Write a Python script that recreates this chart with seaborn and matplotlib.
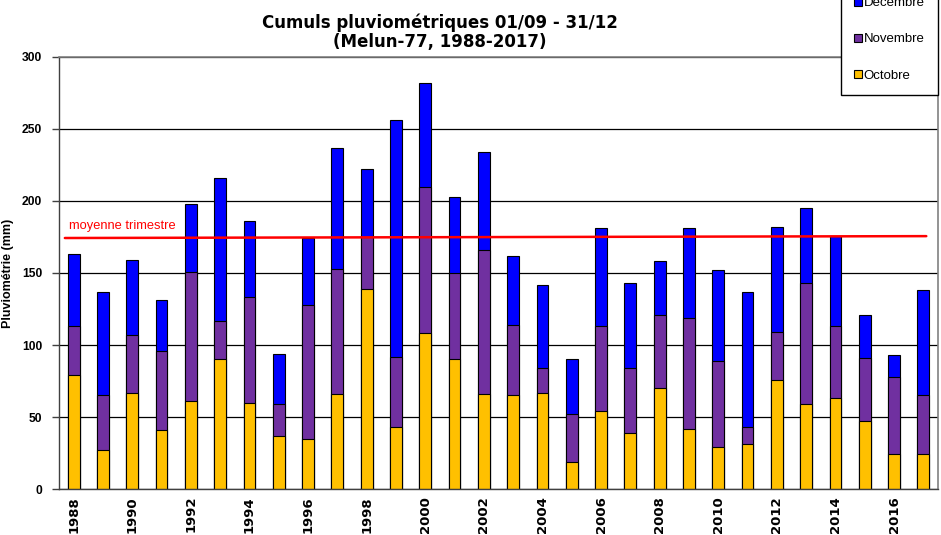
import matplotlib
matplotlib.use("Agg")
import matplotlib.pyplot as plt
import seaborn as sns
import pandas as pd
from matplotlib.patches import Patch
from matplotlib.ticker import FixedLocator

years = list(range(1988, 2018))
octobre = [79, 27, 67, 41, 61, 90, 60, 37, 35, 66, 139, 43, 108, 90, 66,
           65, 67, 19, 54, 39, 70, 42, 29, 31, 76, 59, 63, 47, 24, 24]
novembre_cum = [113, 65, 107, 96, 151, 117, 133, 59, 128, 153, 175, 92, 210, 150, 166,
                114, 84, 52, 113, 84, 121, 119, 89, 43, 109, 143, 113, 91, 78, 65]
decembre_cum = [163, 137, 159, 131, 198, 216, 186, 94, 174, 237, 222, 256, 282, 203, 234,
                162, 142, 90, 181, 143, 158, 181, 152, 137, 182, 195, 176, 121, 93, 138]
moyenne = [174.3, 175.6]
moyenne_label = "moyenne trimestre"
series_names = ["Décembre", "Novembre", "Octobre"]
colors = {"Décembre": "#0000FF", "Novembre": "#7030A0", "Octobre": "#FFC000"}

df = pd.DataFrame({"annee": [str(y) for y in years],
                   "Octobre": octobre,
                   "Novembre": novembre_cum,
                   "Décembre": decembre_cum})

sns.set_style("white")
plt.rcParams["font.family"] = ["Liberation Sans", "DejaVu Sans"]
plt.rcParams["text.color"] = "black"
plt.rcParams["axes.labelcolor"] = "black"
plt.rcParams["xtick.color"] = "black"
plt.rcParams["ytick.color"] = "black"

fig = plt.figure(figsize=(9.41, 5.35), dpi=100)
ax = fig.add_axes([59/941, 46/535, 879/941, 432/535])

for name in series_names:
    sns.barplot(data=df, x="annee", y=name, color=colors[name], saturation=1,
                width=0.4, edgecolor="black", linewidth=0.8, errorbar=None, ax=ax,
                order=df["annee"].tolist())

ax.set_xlim(-0.5, len(years) - 0.5)
ax.set_ylim(0, 300)
ax.set_yticks(range(0, 301, 50))
ax.set_axisbelow(True)
ax.grid(axis="y", color="black", linewidth=0.9)
ax.grid(axis="x", visible=False)

for s in ["top", "right"]:
    ax.spines[s].set_color("#808080")
    ax.spines[s].set_linewidth(1.2)
for s in ["left", "bottom"]:
    ax.spines[s].set_color("#404040")
    ax.spines[s].set_linewidth(1.0)

ax.set_xticks(range(len(years)))
ax.set_xticklabels([str(y) if y % 2 == 0 else "" for y in years],
                   rotation=90, fontweight="bold", fontsize=9.5, family="DejaVu Sans",
                   color="black")
ax.tick_params(axis="x", which="major", length=0, pad=5)
ax.xaxis.set_minor_locator(FixedLocator([i - 0.5 for i in range(len(years) + 1)]))
ax.tick_params(axis="x", which="minor", length=4, direction="out", color="#404040", width=1)
ax.tick_params(axis="y", length=5, direction="out", color="#404040", labelcolor="black",
               width=1, pad=7, labelsize=8.7, left=True)
for lab in ax.get_yticklabels():
    lab.set_fontweight("bold")

ax.set_xlabel("")
ax.set_ylabel("Pluviométrie (mm)", fontsize=9, fontweight="bold", labelpad=6, color="black")

ax.plot([-0.3, len(years) - 0.9], moyenne, color="#FF0000", linewidth=1.8, zorder=5)
ax.text(-0.17, 178.5, moyenne_label, color="#FF0000", fontsize=9.3, ha="left", va="bottom")

fig.text(440/941, 1 - 13/535, "Cumuls pluviométriques 01/09 - 31/12\n(Melun-77, 1988-2017)",
         ha="center", va="top", fontsize=12, fontweight="bold", family="DejaVu Sans",
         linespacing=1.1, color="black")

handles = [Patch(facecolor=colors[n], edgecolor="black", linewidth=0.8) for n in series_names]
leg = fig.legend(handles, series_names, loc="lower right",
                 bbox_to_anchor=(938/941, 1 - 95/535), fontsize=9.5,
                 frameon=True, fancybox=False, edgecolor="black", framealpha=1,
                 handlelength=0.6, handleheight=0.6, handletextpad=0.15,
                 labelspacing=1.85, borderpad=1.0, borderaxespad=0)
leg.get_frame().set_linewidth(1.0)
for t in leg.get_texts():
    t.set_color("black")

fig.savefig("out.png", dpi=100)
